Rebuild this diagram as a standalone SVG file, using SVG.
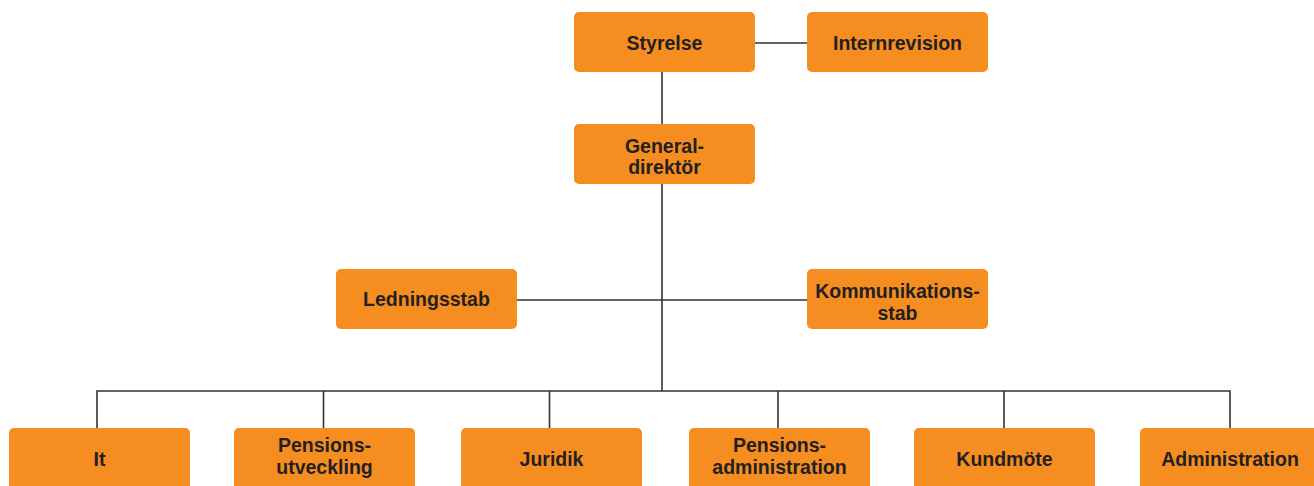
<svg xmlns="http://www.w3.org/2000/svg" width="1314" height="486" viewBox="0 0 1314 486">
<style>
.box{fill:#F58D21;}
.t{font-family:"Liberation Sans",Arial,sans-serif;font-weight:bold;font-size:19.5px;fill:#231F20;text-anchor:middle;}
.c{stroke:#333;stroke-width:1.6;fill:none;}
</style>
<rect width="1314" height="486" fill="#fff"/>
<g id="connectors">
<path class="c" d="M755 43H807"/>
<path class="c" d="M662 72V124"/>
<path class="c" d="M662 184V391"/>
<path class="c" d="M517 300H807"/>
<path class="c" d="M97 428V391H1230V428"/>
<path class="c" d="M323.5 391V428M549.5 391V428M778 391V428M1004 391V428"/>
</g>
<g id="styrelse"><rect class="box" x="574" y="12" width="181" height="60" rx="5"/><text class="t" x="664.5" y="50">Styrelse</text></g>
<g id="internrevision"><rect class="box" x="807" y="12" width="181" height="60" rx="5"/><text class="t" x="897.5" y="50">Internrevision</text></g>
<g id="generaldirektor"><rect class="box" x="574" y="124" width="181" height="60" rx="5"/><text class="t" x="664.5" y="153">General-</text><text class="t" x="664.5" y="174">direktör</text></g>
<g id="ledningsstab"><rect class="box" x="336" y="269" width="181" height="60" rx="5"/><text class="t" x="426.5" y="306">Ledningsstab</text></g>
<g id="kommunikationsstab"><rect class="box" x="807" y="269" width="181" height="60" rx="5"/><text class="t" x="897.5" y="298">Kommunikations-</text><text class="t" x="897.5" y="320">stab</text></g>
<g id="it"><rect class="box" x="9" y="428" width="181" height="64" rx="5"/><text class="t" x="99.5" y="466">It</text></g>
<g id="pensionsutveckling"><rect class="box" x="234" y="428" width="181" height="64" rx="5"/><text class="t" x="324.5" y="452">Pensions-</text><text class="t" x="324.5" y="474">utveckling</text></g>
<g id="juridik"><rect class="box" x="461" y="428" width="181" height="64" rx="5"/><text class="t" x="551.5" y="466">Juridik</text></g>
<g id="pensionsadministration"><rect class="box" x="689" y="428" width="181" height="64" rx="5"/><text class="t" x="779.5" y="452">Pensions-</text><text class="t" x="779.5" y="474">administration</text></g>
<g id="kundmote"><rect class="box" x="914" y="428" width="181" height="64" rx="5"/><text class="t" x="1004.5" y="466">Kundmöte</text></g>
<g id="administration"><rect class="box" x="1140" y="428" width="181" height="64" rx="5"/><text class="t" x="1230" y="466">Administration</text></g>
</svg>
